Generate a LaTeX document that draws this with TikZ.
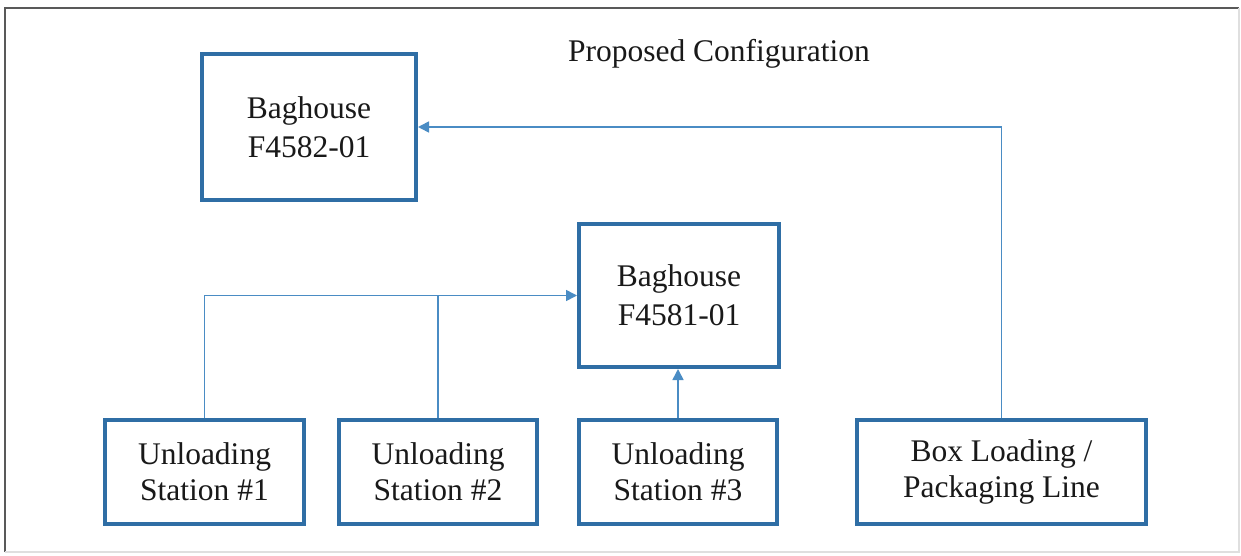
\documentclass[tikz,border=0pt]{standalone}
\usepackage{fontspec}
\setmainfont{Liberation Serif}
\usetikzlibrary{arrows.meta}
\definecolor{boxblue}{HTML}{2F6EA5}
\definecolor{lineblue}{HTML}{4A8CC4}
\begin{document}
\begin{tikzpicture}[x=0.5pt,y=-0.5pt,
  unitbox/.style={draw=boxblue, line width=2pt, fill=white, align=center, inner sep=0pt,
    font=\fontsize{15.75}{18}\selectfont, text=black!90},
  bagbox/.style={unitbox, font=\fontsize{15.75}{19.5}\selectfont},
  flow/.style={draw=lineblue, line width=0.8pt, -{Triangle[length=5.5pt,width=5.5pt]}},
  plain/.style={draw=lineblue, line width=0.8pt}]
\useasboundingbox (0,0) rectangle (1241,556);
\fill[white] (0,0) rectangle (1241,556);
% frame
\draw[gray!70!black, line width=1pt] (5,552) -- (5,8) -- (1239,8);
\draw[gray!25, line width=1pt] (5,552) -- (1239,552) -- (1239,8);
% title
\node[font=\fontsize{15.75}{17.5}\selectfont, text=black!90] (title) at (719,54) {Proposed Configuration};
% boxes
\node[bagbox, minimum width=107pt, minimum height=73pt] (bh2) at (309,127) {Baghouse\\F4582-01};
\node[bagbox, minimum width=100pt, minimum height=71.5pt] (bh1) at (679,295.5) {Baghouse\\F4581-01};
\node[unitbox, minimum width=99.5pt, minimum height=52pt] (u1) at (204.5,471.5) {Unloading\\Station \#1};
\node[unitbox, minimum width=99pt, minimum height=52pt] (u2) at (438,471.5) {Unloading\\Station \#2};
\node[unitbox, minimum width=99pt, minimum height=52pt] (u3) at (678,471.5) {Unloading\\Station \#3};
\node[unitbox, minimum width=144.5pt, minimum height=52pt] (bl) at (1001.5,471.5) {Box Loading /\\Packaging Line};
% connectors
\draw[flow] (bl.north) |- (bh2.east);
\draw[flow] (u1.north) |- (bh1.west);
\draw[plain] (u2.north) -- (u2.north |- bh1.west);
\draw[flow] (u3.north) -- (u3.north |- bh1.south);
\end{tikzpicture}
\end{document}
